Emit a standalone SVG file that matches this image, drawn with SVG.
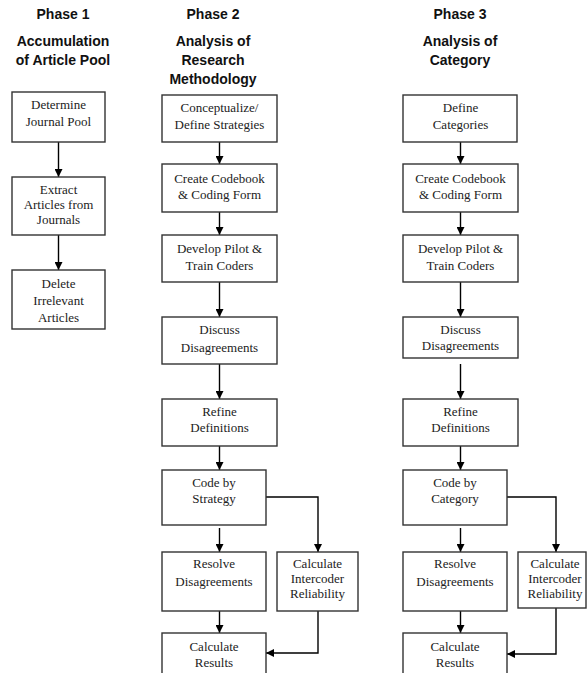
<svg xmlns="http://www.w3.org/2000/svg" width="587" height="673" viewBox="0 0 587 673">
<defs>
<marker id="ah" viewBox="0 0 8 8" refX="8" refY="4" markerWidth="8" markerHeight="8" markerUnits="userSpaceOnUse" orient="auto">
<path d="M0,0 L8,4 L0,8 Z" fill="#000"/>
</marker>
</defs>
<style>
.h{font-family:"Liberation Sans",Arial,sans-serif;font-size:14px;font-weight:bold;fill:#111;text-anchor:middle}
.b{fill:#fff;stroke:#333;stroke-width:1.4}
.t{font-family:"Liberation Serif","Times New Roman",serif;font-size:13px;fill:#222;text-anchor:middle}
.c{fill:none;stroke:#000;stroke-width:1.4;marker-end:url(#ah)}
</style>
<rect width="587" height="673" fill="#fff"/>
<g id="headers">
<text class="h" x="63" y="19">Phase 1</text>
<text class="h" x="63" y="46">Accumulation</text>
<text class="h" x="63" y="65">of Article Pool</text>
<text class="h" x="213" y="19">Phase 2</text>
<text class="h" x="213" y="46">Analysis of</text>
<text class="h" x="213" y="65">Research</text>
<text class="h" x="213" y="84">Methodology</text>
<text class="h" x="460" y="19">Phase 3</text>
<text class="h" x="460" y="46">Analysis of</text>
<text class="h" x="460" y="65">Category</text>
</g>
<g id="connectors">
<line class="c" x1="58.5" y1="142" x2="58.5" y2="177"/>
<line class="c" x1="58.5" y1="235" x2="58.5" y2="270"/>
<line class="c" x1="219.5" y1="142" x2="219.5" y2="164"/>
<line class="c" x1="219.5" y1="212" x2="219.5" y2="235"/>
<line class="c" x1="219.5" y1="282" x2="219.5" y2="317"/>
<line class="c" x1="219.5" y1="364" x2="219.5" y2="399"/>
<line class="c" x1="219.5" y1="446" x2="219.5" y2="470"/>
<line class="c" x1="219.5" y1="528" x2="219.5" y2="552"/>
<line class="c" x1="219.5" y1="611" x2="219.5" y2="633"/>
<polyline class="c" points="266,497 318,497 318,552"/>
<polyline class="c" points="318,611 318,653 266,653"/>
<line class="c" x1="460.5" y1="142" x2="460.5" y2="164"/>
<line class="c" x1="460.5" y1="212" x2="460.5" y2="235"/>
<line class="c" x1="460.5" y1="282" x2="460.5" y2="317"/>
<line class="c" x1="460.5" y1="364" x2="460.5" y2="399"/>
<line class="c" x1="460.5" y1="446" x2="460.5" y2="470"/>
<line class="c" x1="460.5" y1="528" x2="460.5" y2="552"/>
<line class="c" x1="460.5" y1="611" x2="460.5" y2="633"/>
<polyline class="c" points="507,497 556,497 556,552"/>
<polyline class="c" points="556,608 556,654 507,654"/>
</g>
<g id="p1-determine"><rect class="b" x="12" y="92" width="93" height="50"/><text class="t" x="58.5" y="109">Determine</text><text class="t" x="58.5" y="126">Journal Pool</text></g>
<g id="p1-extract"><rect class="b" x="12" y="177" width="93" height="58"/><text class="t" x="58.5" y="194">Extract</text><text class="t" x="58.5" y="209">Articles from</text><text class="t" x="58.5" y="224">Journals</text></g>
<g id="p1-delete"><rect class="b" x="12" y="270" width="93" height="59"/><text class="t" x="58.5" y="288">Delete</text><text class="t" x="58.5" y="305">Irrelevant</text><text class="t" x="58.5" y="322">Articles</text></g>

<g id="p2-conceptualize"><rect class="b" x="162" y="95" width="115" height="47"/><text class="t" x="219.5" y="112">Conceptualize/</text><text class="t" x="219.5" y="129">Define Strategies</text></g>
<g id="p2-codebook"><rect class="b" x="162" y="164" width="115" height="48"/><text class="t" x="219.5" y="183">Create Codebook</text><text class="t" x="219.5" y="199">&amp; Coding Form</text></g>
<g id="p2-pilot"><rect class="b" x="162" y="235" width="115" height="47"/><text class="t" x="219.5" y="253">Develop Pilot &amp;</text><text class="t" x="219.5" y="270">Train Coders</text></g>
<g id="p2-discuss"><rect class="b" x="162" y="317" width="115" height="47"/><text class="t" x="219.5" y="334">Discuss</text><text class="t" x="219.5" y="352">Disagreements</text></g>
<g id="p2-refine"><rect class="b" x="162" y="399" width="115" height="47"/><text class="t" x="219.5" y="416">Refine</text><text class="t" x="219.5" y="432">Definitions</text></g>
<g id="p2-code"><rect class="b" x="162" y="470" width="104" height="55"/><text class="t" x="214" y="487">Code by</text><text class="t" x="214" y="503">Strategy</text></g>
<g id="p2-resolve"><rect class="b" x="162" y="552" width="104" height="59"/><text class="t" x="214" y="568">Resolve</text><text class="t" x="214" y="586">Disagreements</text></g>
<g id="p2-intercoder"><rect class="b" x="277" y="552" width="81" height="59"/><text class="t" x="317.5" y="568">Calculate</text><text class="t" x="317.5" y="583">Intercoder</text><text class="t" x="317.5" y="598">Reliability</text></g>
<g id="p2-results"><rect class="b" x="162" y="633" width="104" height="50"/><text class="t" x="214" y="651">Calculate</text><text class="t" x="214" y="667">Results</text></g>

<g id="p3-define"><rect class="b" x="403" y="95" width="114" height="47"/><text class="t" x="460.5" y="112">Define</text><text class="t" x="460.5" y="129">Categories</text></g>
<g id="p3-codebook"><rect class="b" x="403" y="164" width="115" height="48"/><text class="t" x="460.5" y="183">Create Codebook</text><text class="t" x="460.5" y="199">&amp; Coding Form</text></g>
<g id="p3-pilot"><rect class="b" x="403" y="235" width="115" height="47"/><text class="t" x="460.5" y="253">Develop Pilot &amp;</text><text class="t" x="460.5" y="270">Train Coders</text></g>
<g id="p3-discuss"><rect class="b" x="403" y="317" width="115" height="41"/><text class="t" x="460.5" y="334">Discuss</text><text class="t" x="460.5" y="350">Disagreements</text></g>
<g id="p3-refine"><rect class="b" x="403" y="399" width="115" height="47"/><text class="t" x="460.5" y="416">Refine</text><text class="t" x="460.5" y="432">Definitions</text></g>
<g id="p3-code"><rect class="b" x="403" y="470" width="104" height="55"/><text class="t" x="455" y="487">Code by</text><text class="t" x="455" y="503">Category</text></g>
<g id="p3-resolve"><rect class="b" x="403" y="552" width="104" height="59"/><text class="t" x="455" y="568">Resolve</text><text class="t" x="455" y="586">Disagreements</text></g>
<g id="p3-intercoder"><rect class="b" x="518" y="552" width="68" height="56"/><text class="t" x="555" y="568">Calculate</text><text class="t" x="555" y="583">Intercoder</text><text class="t" x="555" y="598">Reliability</text></g>
<g id="p3-results"><rect class="b" x="403" y="633" width="104" height="50"/><text class="t" x="455" y="651">Calculate</text><text class="t" x="455" y="667">Results</text></g>
</svg>
